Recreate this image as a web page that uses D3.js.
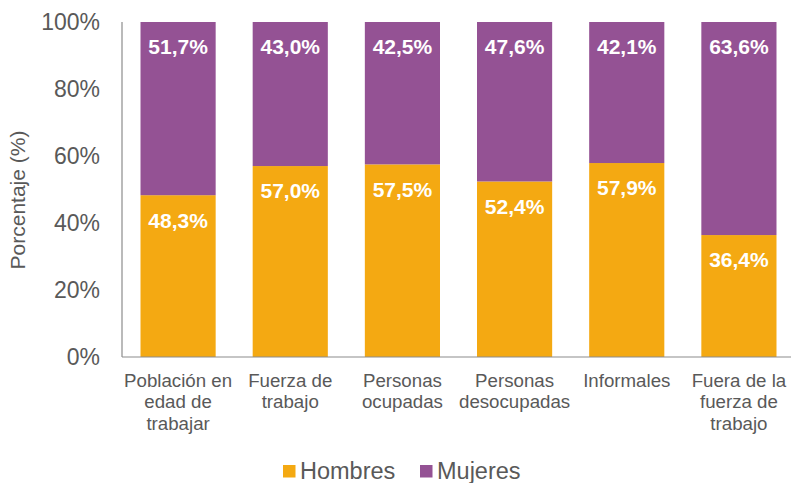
<!DOCTYPE html>
<html>
<head>
<meta charset="utf-8">
<script src="https://cdn.jsdelivr.net/npm/d3@7"></script>
<style>
  body { margin: 0; background: #fff; }
  text { font-family: "Liberation Sans", Arial, sans-serif; }
</style>
</head>
<body>
<div id="chart"></div>
<script>
var categories = [
    ["Población en", "edad de", "trabajar"],
    ["Fuerza de", "trabajo"],
    ["Personas", "ocupadas"],
    ["Personas", "desocupadas"],
    ["Informales"],
    ["Fuera de la", "fuerza de", "trabajo"]
];
var hombres = [48.3, 57.0, 57.5, 52.4, 57.9, 36.4];
var mujeres = [51.7, 43.0, 42.5, 47.6, 42.1, 63.6];
var seriesNames = ["Hombres", "Mujeres"];
var yTicks = [0, 20, 40, 60, 80, 100];

var W = 791, H = 483;
var colors = { Hombres: "#F4A912", Mujeres: "#945294" };
var textColor = "#595959";
var axisColor = "#8c8c8c";

var svg = d3.select("#chart")
    .append("svg")
    .attr("width", W)
    .attr("height", H);

var x = d3.scaleBand()
    .domain(d3.range(categories.length))
    .range([122, 795])
    .paddingInner(0.33)
    .paddingOuter(0.165);

var y = d3.scaleLinear()
    .domain([0, 100])
    .range([357, 22]);

var fmt = function (v) { return v.toFixed(1).replace(".", ",") + "%"; };

// bars
var rows = categories.map(function (c, i) {
    return { i: i, Hombres: hombres[i], Mujeres: mujeres[i] };
});
var stack = d3.stack().keys(seriesNames)(rows);

stack.forEach(function (layer) {
    var g = svg.append("g");
    g.selectAll("rect")
        .data(layer)
        .enter()
        .append("rect")
        .attr("x", function (d) { return x(d.data.i); })
        .attr("y", function (d) { return y(d[1]); })
        .attr("width", x.bandwidth())
        .attr("height", function (d) { return y(d[0]) - y(d[1]); })
        .style("fill", colors[layer.key]);

    g.selectAll("text")
        .data(layer)
        .enter()
        .append("text")
        .attr("x", function (d) { return x(d.data.i) + x.bandwidth() / 2; })
        .attr("y", function (d) { return y(d[1]) + 25; })
        .attr("dy", ".35em")
        .attr("text-anchor", "middle")
        .style("font-size", "21px")
        .style("font-weight", "bold")
        .style("fill", "#fff")
        .text(function (d) { return fmt(d.data[layer.key]); });
});

// axes lines
svg.append("line")
    .attr("x1", 122).attr("x2", 122)
    .attr("y1", y(100)).attr("y2", y(0))
    .style("stroke", axisColor).style("stroke-width", 1.2);
svg.append("line")
    .attr("x1", 122).attr("x2", W)
    .attr("y1", y(0)).attr("y2", y(0))
    .style("stroke", axisColor).style("stroke-width", 1.2);

// y tick labels
svg.append("g")
    .selectAll("text")
    .data(yTicks)
    .enter()
    .append("text")
    .attr("x", 100)
    .attr("y", function (d) { return y(d); })
    .attr("dy", ".35em")
    .attr("text-anchor", "end")
    .style("font-size", "23px")
    .style("fill", textColor)
    .text(function (d) { return d + "%"; });

// y title
svg.append("text")
    .attr("transform", "translate(25,200) rotate(-90)")
    .attr("text-anchor", "middle")
    .style("font-size", "21px")
    .style("fill", textColor)
    .text("Porcentaje (%)");

// x category labels
categories.forEach(function (lines, i) {
    var t = svg.append("text")
        .attr("text-anchor", "middle")
        .style("font-size", "18.7px")
        .style("fill", textColor);
    lines.forEach(function (l, j) {
        t.append("tspan")
            .attr("x", x(i) + x.bandwidth() / 2)
            .attr("y", 387 + j * 21.3)
            .text(l);
    });
});

// legend
var legendItems = [
    { name: "Hombres", x: 283 },
    { name: "Mujeres", x: 420 }
];
legendItems.forEach(function (d) {
    svg.append("rect")
        .attr("x", d.x)
        .attr("y", 465)
        .attr("width", 12.5)
        .attr("height", 12.5)
        .style("fill", colors[d.name]);
    svg.append("text")
        .attr("x", d.x + 17)
        .attr("y", 479)
        .style("font-size", "23.5px")
        .style("fill", textColor)
        .text(d.name);
});
</script>
</body>
</html>
